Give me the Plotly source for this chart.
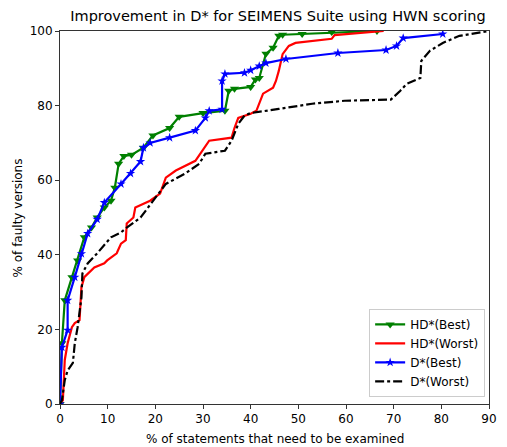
import plotly.graph_objects as go

hd_best_x = [0, 0.4, 1, 2.5, 3.7, 5.1, 6.6, 7.8, 9.3, 10.7, 11.5, 12.3, 13.4, 15, 17.5, 19.5, 23, 25, 30, 34.6, 35.4, 36.6, 40, 41, 41.8, 43.2, 44.7, 45.9, 46.7, 50.8, 57, 66.5]
hd_best_y = [0, 16.3, 27.8, 34, 38.5, 44.7, 47.3, 50, 52.7, 54.5, 58, 64.4, 66.5, 66.8, 68.7, 72, 74, 77, 78, 78.6, 84, 84.5, 85, 87, 87.4, 93.9, 95.5, 98.7, 99, 99.2, 99.7, 100]

hd_worst_x = [0, 0.6, 1, 1.6, 2.5, 3.1, 4.1, 4.5, 5.1, 7.2, 9.3, 9.9, 11.9, 12.8, 13.8, 14, 15.4, 15.8, 18.9, 21, 22.2, 24.3, 28.4, 31.3, 36, 36.6, 37.4, 40, 41.2, 42.6, 44.7, 45.3, 45.9, 46.7, 48, 49.4, 57, 57.6, 67.9]
hd_worst_y = [0, 1, 11.8, 16.3, 20.6, 21.7, 22.5, 31.3, 34, 36.6, 37.7, 38.5, 40.4, 43, 43.9, 48.4, 50, 52.7, 54.5, 56.4, 60.7, 62.6, 65.2, 70.6, 71.4, 74, 76.7, 77.8, 78.6, 83.2, 84.8, 86.6, 89.3, 93.8, 96, 96.8, 97.9, 98.9, 100]

d_best_x = [0, 0.4, 1.6, 1.6, 3.1, 4.5, 5.8, 7.8, 9.3, 12.8, 14.8, 16.9, 17.5, 18.9, 23, 28.4, 30.5, 31.3, 34, 34, 34.6, 38.7, 40, 41.8, 43.2, 47.4, 58.3, 68.4, 70.6, 72, 80.3]
d_best_y = [0, 15.2, 19.8, 27.8, 34, 40.3, 45.7, 49.5, 54, 59, 61.8, 65, 68.7, 70, 71.4, 73.3, 76.7, 78.6, 79, 86.6, 88.5, 88.8, 89.5, 90.6, 91.4, 92.5, 94.1, 94.9, 96, 98.1, 99.2]

d_worst_x = [0, 0.4, 1, 1.6, 2.7, 3.1, 3.7, 4.5, 4.7, 5.8, 7.8, 10.7, 12.8, 14, 16.9, 19.5, 22.2, 26.3, 29.2, 30.5, 34.6, 36, 37.4, 38.7, 40, 45.9, 52.9, 59.7, 69.4, 71.4, 72.7, 75.6, 75.8, 77.6, 80.3, 83.8, 90]
d_worst_y = [0, 1, 6.4, 9, 11, 16.3, 20.6, 28.6, 35, 37.7, 40.4, 44.7, 46, 47.3, 50, 54.5, 59, 61.8, 64.4, 67.1, 67.9, 70.6, 75.1, 77.3, 78, 79.1, 80.5, 81.3, 81.6, 84, 85.8, 87.4, 92, 94.7, 96.8, 98.7, 100]

x_title = "% of statements that need to be examined"
y_title = "% of faulty versions"

fig = go.Figure()
fig.add_trace(go.Scatter(x=hd_best_x, y=hd_best_y, mode="lines+markers", name="HD*(Best)",
                         line=dict(color="green", width=2.2),
                         marker=dict(symbol="triangle-down", size=8, color="green")))
fig.add_trace(go.Scatter(x=hd_worst_x, y=hd_worst_y, mode="lines", name="HD*(Worst)",
                         line=dict(color="red", width=2.2)))
fig.add_trace(go.Scatter(x=d_best_x, y=d_best_y, mode="lines+markers", name="D*(Best)",
                         line=dict(color="blue", width=2.2),
                         marker=dict(symbol="star", size=7, color="blue")))
fig.add_trace(go.Scatter(x=d_worst_x, y=d_worst_y, mode="lines", name="D*(Worst)",
                         line=dict(color="black", width=2.2, dash="dashdot")))

# the page body has an 8px margin, so the figure is sized to fit the window
fig.update_layout(
    width=499, height=439,
    margin=dict(l=52, r=10, t=23, b=43),
    paper_bgcolor="white", plot_bgcolor="white",
    font=dict(family="DejaVu Sans", color="black", size=12),
    title=dict(text="Improvement in D* for SEIMENS Suite using HWN scoring",
               x=0.541, xanchor="center", y=1 - 8 / 439, yanchor="middle", font=dict(size=14.5)),
    xaxis=dict(range=[0, 90], tickmode="linear", tick0=0, dtick=10,
               showline=True, linecolor="#333333", mirror=True,
               ticks="outside", ticklen=4, tickcolor="#333333", showgrid=False, zeroline=False),
    yaxis=dict(range=[0, 100], tickmode="linear", tick0=0, dtick=20,
               showline=True, linecolor="#333333", mirror=True,
               ticks="outside", ticklen=4, tickcolor="#333333", showgrid=False, zeroline=False),
    legend=dict(x=0.991, y=0.019, xanchor="right", yanchor="bottom",
                bgcolor="white", bordercolor="#cccccc", borderwidth=1, tracegroupgap=2),
    annotations=[
        dict(text=x_title, xref="paper", yref="paper", x=0.5, y=-0.094,
             xanchor="center", yanchor="middle", showarrow=False,
             font=dict(size=12, color="black")),
        dict(text=y_title, xref="paper", yref="paper", x=-0.098, y=0.5,
             xanchor="center", yanchor="middle", textangle=-90, showarrow=False,
             font=dict(size=12, color="black")),
    ],
    showlegend=True,
)

fig.write_html("out.html")
